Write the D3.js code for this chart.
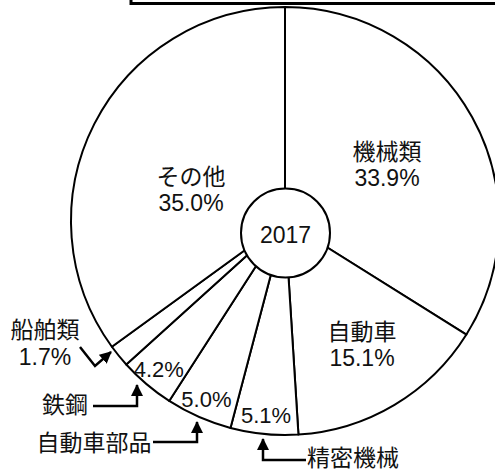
<!DOCTYPE html>
<html>
<head>
<meta charset="utf-8">
<script src="https://cdn.jsdelivr.net/npm/d3@7"></script>
<style>
  html, body { margin: 0; padding: 0; background: #fff; }
  svg { display: block; }
  text { font-family: "Liberation Sans", Arial, "Noto Sans CJK JP", sans-serif; fill: #111; }
</style>
</head>
<body>
<div id="container"></div>
<script>
// data
var categories = ['機械類', '自動車', '精密機械', '自動車部品', '鉄鋼', '船舶類', 'その他'];
var shares = [33.9, 15.1, 5.1, 5.0, 4.2, 1.7, 35.0];
var yearLabel = '2017';

var totalWidth = 495,
    totalHeight = 470,
    cx = 285,
    cy = 221,
    radius = 214,
    fontSize = 23;

var data = categories.map(function(c, i) { return {name: c, value: shares[i]}; });
var fmt = function(v) { return v.toFixed(1) + '%'; };

var svg = d3.select("#container")
            .append("svg")
            .attr("width", totalWidth)
            .attr("height", totalHeight);

// 上の枠（切れている）
svg.append("rect")
   .attr("x", 131).attr("y", -20)
   .attr("width", 400).attr("height", 23.5)
   .attr("fill", "none")
   .attr("stroke", "#000")
   .attr("stroke-width", 3);

var pie = d3.pie().sort(null).value(function(d) { return d.value; });
var arc = d3.arc().innerRadius(0).outerRadius(radius);
var arcs = pie(data);

var g = svg.append("g")
           .attr("transform", "translate(" + cx + "," + cy + ")");

g.selectAll(".slice")
 .data(arcs).enter()
 .append("path").attr("class", "slice")
 .attr("d", arc)
 .attr("fill", "#fff")
 .attr("stroke", "#000")
 .attr("stroke-width", 2)
 .attr("stroke-linejoin", "round");

// 中央の円
g.append("circle")
 .attr("cx", 0.5).attr("cy", 12)
 .attr("r", 44.5)
 .attr("fill", "#fff")
 .attr("stroke", "#000")
 .attr("stroke-width", 2);
g.append("text")
 .attr("x", 0.5).attr("y", 14)
 .attr("dy", "0.35em")
 .attr("text-anchor", "middle")
 .attr("font-size", fontSize)
 .text(yearLabel);

// ラベル（スライス内、名前＋％）
var innerLabels = {
  '機械類': [102, -56],
  '自動車': [77, 124],
  'その他': [-94, -31]
};
arcs.forEach(function(d) {
  var p = innerLabels[d.data.name];
  if (!p) return;
  var t = g.append("text")
           .attr("text-anchor", "middle")
           .attr("font-size", fontSize);
  t.append("tspan").attr("x", p[0]).attr("y", p[1] - 13).attr("dy", "0.35em").text(d.data.name);
  t.append("tspan").attr("x", p[0]).attr("y", p[1] + 13).attr("dy", "0.35em").text(fmt(d.data.value));
});

// 小さいスライスの％（縁の近く）
var pctArc = d3.arc().innerRadius(195).outerRadius(195);
g.selectAll(".pct")
 .data(arcs.filter(function(d) { return ['精密機械', '自動車部品', '鉄鋼'].indexOf(d.data.name) >= 0; }))
 .enter().append("text").attr("class", "pct")
 .attr("transform", function(d) { return "translate(" + pctArc.centroid(d) + ")"; })
 .attr("dy", "0.35em")
 .attr("text-anchor", "middle")
 .attr("font-size", fontSize - 1)
 .text(function(d) { return fmt(d.data.value); });

// 外側ラベルと矢印
var defs = svg.append("defs");
defs.append("marker")
    .attr("id", "head")
    .attr("viewBox", "0 0 12 12")
    .attr("refX", 11).attr("refY", 6)
    .attr("markerWidth", 12).attr("markerHeight", 12)
    .attr("markerUnits", "userSpaceOnUse")
    .attr("orient", "auto")
    .append("path")
    .attr("d", "M0,0 L12,6 L0,12 Z")
    .attr("fill", "#000");

var callouts = [
  {name: '船舶類', lines: ['船舶類', fmt(shares[5])], x: 45, y: 330, anchor: "middle",
   path: [[80, 347], [95, 366], [111, 352]]},
  {name: '鉄鋼', lines: ['鉄鋼'], x: 65, y: 405, anchor: "middle",
   path: [[93, 406], [137, 406], [137, 385]]},
  {name: '自動車部品', lines: ['自動車部品'], x: 94, y: 443, anchor: "middle",
   path: [[153, 442], [197, 442], [197, 422]]},
  {name: '精密機械', lines: ['精密機械'], x: 307, y: 458, anchor: "start",
   path: [[306, 460], [263, 460], [263, 439]]}
];
var line = d3.line();
callouts.forEach(function(c) {
  var t = svg.append("text")
             .attr("text-anchor", c.anchor)
             .attr("font-size", fontSize);
  c.lines.forEach(function(s, i) {
    t.append("tspan").attr("x", c.x).attr("y", c.y + i * 27).attr("dy", "0.35em").text(s);
  });
  svg.append("path")
     .attr("d", line(c.path))
     .attr("fill", "none")
     .attr("stroke", "#000")
     .attr("stroke-width", 2.5)
     .attr("marker-end", "url(#head)");
});
</script>
</body>
</html>
